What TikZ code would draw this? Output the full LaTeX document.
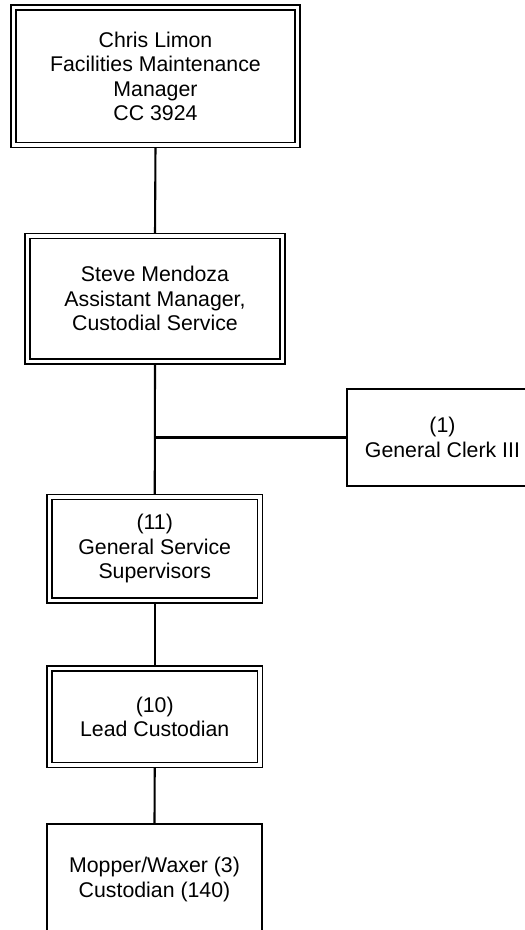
\documentclass[tikz,border=0pt]{standalone}
\usepackage{fontspec}
\setmainfont{Liberation Sans}
\usetikzlibrary{backgrounds}
\begin{document}
\begin{tikzpicture}[x=1pt,y=-1pt,
  boxtext/.style={font=\fontsize{21.3}{24.5}\selectfont, align=center, inner sep=0pt, outer sep=0pt, fill=white, anchor=center},
  dblbox/.style={boxtext, draw, line width=1.8pt, double, double distance=3.2pt},
  sglbox/.style={boxtext, draw, line width=1.9pt},
  link/.style={draw, line width=2.1pt}]
\clip (0,0) rectangle (525,930);
\node[dblbox, minimum width=284pt, minimum height=137.5pt] (b1) at (155.5,76.25)
  {Chris Limon\\Facilities Maintenance\\Manager\\CC 3924};
\node[dblbox, minimum width=255pt, minimum height=125.5pt] (b2) at (155,298.75)
  {Steve Mendoza\\Assistant Manager,\\Custodial Service};
\node[sglbox, minimum width=191pt, minimum height=97pt] (clerk) at (442.5,437.5)
  {(1)\\General Clerk III};
\node[dblbox, minimum width=210.5pt, minimum height=103.5pt] (b3) at (154.75,548.75)
  {(11)\\General Service\\Supervisors};
\node[dblbox, minimum width=210.5pt, minimum height=96.5pt] (b4) at (154.75,716.75)
  {(10)\\Lead Custodian};
\node[sglbox, minimum width=215pt, minimum height=111pt] (b5) at (154.5,879.5)
  {Mopper/Waxer (3)\\Custodian (140)};
\begin{scope}[on background layer]
\draw[link] (b1.south) -- (b2.north);
\draw[link] (b2.south) -- (b3.north);
\draw[link] (b3.south) -- (b4.north);
\draw[link] (b4.south) -- (b5.north);
\coordinate (tee) at (b2.south |- clerk.west);
\draw[link] (tee) -- (clerk.west);
\end{scope}
\end{tikzpicture}
\end{document}
